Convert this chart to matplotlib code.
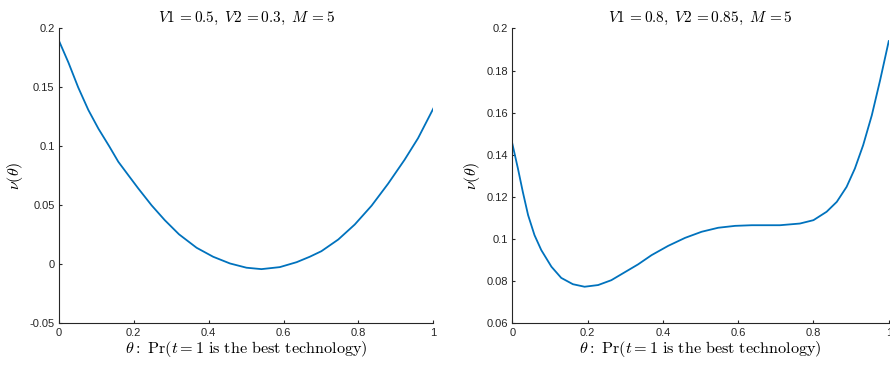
import numpy as np
import matplotlib
matplotlib.use('Agg')
import matplotlib.pyplot as plt
from matplotlib.ticker import FuncFormatter

OUT_FILE = 'out.png'

# left panel: V1=0.5, V2=0.3, M=5
theta_left = [0.0, 0.026, 0.052, 0.079, 0.106, 0.135, 0.159, 0.186, 0.212, 0.248,
              0.283, 0.321, 0.368, 0.412, 0.457, 0.501, 0.541, 0.590, 0.635, 0.670,
              0.701, 0.746, 0.790, 0.835, 0.879, 0.923, 0.959, 1.0]
nu_left = [0.190, 0.1710, 0.1500, 0.1309, 0.1150, 0.1000, 0.0870, 0.0755, 0.0645, 0.0500,
           0.0375, 0.0255, 0.0141, 0.0065, 0.0008, -0.0028, -0.0040, -0.0023, 0.0019, 0.0065,
           0.0112, 0.0211, 0.0338, 0.0498, 0.0684, 0.0887, 0.1070, 0.1323]

# right panel: V1=0.8, V2=0.85, M=5
theta_right = [0.0, 0.015, 0.028, 0.042, 0.059, 0.077, 0.104, 0.130, 0.161, 0.192,
               0.228, 0.263, 0.298, 0.334, 0.370, 0.414, 0.459, 0.503, 0.547, 0.592,
               0.636, 0.671, 0.711, 0.764, 0.800, 0.835, 0.862, 0.888, 0.910, 0.932,
               0.955, 0.977, 1.0]
nu_right = [0.1454, 0.1335, 0.1224, 0.1114, 0.1019, 0.0948, 0.0869, 0.0816, 0.0786, 0.0774,
            0.0782, 0.0805, 0.0842, 0.0880, 0.0924, 0.0968, 0.1006, 0.1035, 0.1054, 0.1063,
            0.1066, 0.1066, 0.1066, 0.1074, 0.1090, 0.1130, 0.1177, 0.1248, 0.1335, 0.1446,
            0.1588, 0.1754, 0.1940]

titles = [r'$V1\,{=}0.5,\ V2\,{=}0.3,\ M\,{=}5$',
          r'$V1\,{=}0.8,\ V2\,{=}0.85,\ M\,{=}5$']
xlabel = r'$\theta\mathrm{:\ Pr}(t = 1\ \mathrm{is\ the\ best\ technology})$'
ylabel = r'$\nu(\theta)$'

left_yticks = [-0.05, 0, 0.05, 0.1, 0.15, 0.2]
right_yticks = [0.06, 0.08, 0.1, 0.12, 0.14, 0.16, 0.18, 0.2]
xticks = [0, 0.2, 0.4, 0.6, 0.8, 1]

plt.rcParams['mathtext.fontset'] = 'cm'
plt.rcParams['font.family'] = ['Liberation Sans', 'DejaVu Sans']

AX_COL = '#262626'
LINE_COL = '#0072BD'

fig = plt.figure(figsize=(8.9, 3.65), dpi=100)
ax1 = fig.add_axes([0.066, 0.114, 0.421, 0.808])
ax2 = fig.add_axes([0.5756, 0.114, 0.423, 0.808])

fmt = FuncFormatter(lambda v, pos: '%g' % round(v, 4))

panels = [(ax1, theta_left, nu_left, left_yticks, titles[0]),
          (ax2, theta_right, nu_right, right_yticks, titles[1])]

for ax, xs, ys, yt, title in panels:
    ax.plot(xs, ys, color=LINE_COL, lw=1.3, solid_joinstyle='round')
    ax.set_xlim(0, 1)
    ax.set_ylim(yt[0], yt[-1])
    ax.set_xticks(xticks)
    ax.set_yticks(yt)
    ax.xaxis.set_major_formatter(fmt)
    ax.yaxis.set_major_formatter(fmt)
    for side in ['top', 'right']:
        ax.spines[side].set_visible(False)
    for side in ['left', 'bottom']:
        ax.spines[side].set_color(AX_COL)
        ax.spines[side].set_linewidth(0.8)
    ax.tick_params(direction='in', length=2.5, width=0.8, colors=AX_COL,
                   labelsize=8, pad=3)
    ax.set_title(title, fontsize=11, color='black', pad=5)
    ax.set_xlabel(xlabel, fontsize=11.7, labelpad=1)
    ax.set_ylabel(ylabel, fontsize=11.5, labelpad=3)

fig.savefig(OUT_FILE, dpi=100)
